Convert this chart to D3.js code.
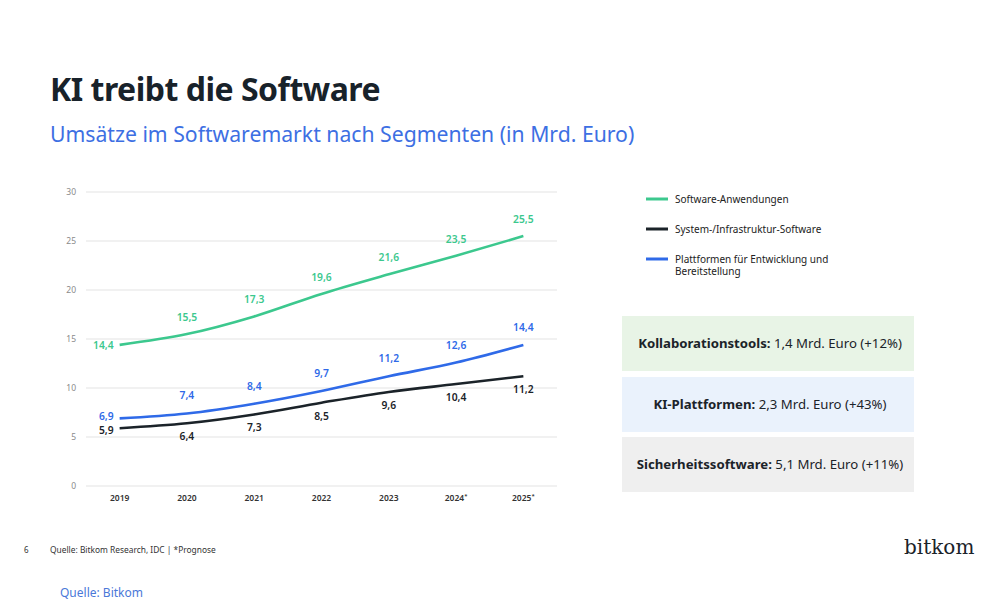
<!DOCTYPE html>
<html><head><meta charset="utf-8">
<script src="https://cdn.jsdelivr.net/npm/d3@7"></script>
<style>body{margin:0;background:#fff;}svg{display:block;font-family:"Noto Sans","Open Sans",sans-serif;}</style>
</head><body>
<svg id="c" width="1000" height="600"></svg>
<script>
const years = ["2019","2020","2021","2022","2023","2024*","2025*"];
const anwendungen = [14.4,15.5,17.3,19.6,21.6,23.5,25.5];
const infrastruktur = [5.9,6.4,7.3,8.5,9.6,10.4,11.2];
const plattformen = [6.9,7.4,8.4,9.7,11.2,12.6,14.4];
const yTicks = [0,5,10,15,20,25,30];
const seriesNames = ["Software-Anwendungen","System-/Infrastruktur-Software","Plattformen für Entwicklung und Bereitstellung"];
const boxBold = ["Kollaborationstools:","KI-Plattformen:","Sicherheitssoftware:"];
const boxRest = [" 1,4 Mrd. Euro (+12%)"," 2,3 Mrd. Euro (+43%)"," 5,1 Mrd. Euro (+11%)"];

const svg = d3.select("#c");
const green="#3cc88e", black="#1b2329", blue="#2f6ae8";
const fmt = v => String(v).replace(".", ",");

svg.append("text").attr("x",50).attr("y",101).attr("font-size",32).attr("font-weight",700)
  .attr("fill","#18222a").attr("letter-spacing","-0.5").text("KI treibt die Software");
svg.append("text").attr("x",50).attr("y",142).attr("font-size",21.2).attr("fill","#3d6fe3")
  .text("Umsätze im Softwaremarkt nach Segmenten (in Mrd. Euro)");

const x = d3.scalePoint().domain(years).range([86,557]).padding(0.5);
const y = d3.scaleLinear().domain([0,30]).range([486,192]);

const g = svg.append("g");
g.selectAll("line.grid").data(yTicks).join("line")
  .attr("x1",86).attr("x2",557).attr("y1",d=>y(d)).attr("y2",d=>y(d))
  .attr("stroke","#e3e3e3").attr("stroke-width",1.2);
g.selectAll("text.yt").data(yTicks).join("text")
  .attr("x",76).attr("y",d=>y(d)+3).attr("text-anchor","end").attr("font-size",8.5)
  .attr("fill","#8a8a8a").text(d=>d);
const xt = g.selectAll("text.xt").data(years).join("text")
  .attr("x",d=>x(d)).attr("y",501).attr("text-anchor","middle").attr("font-size",8.5)
  .attr("font-weight",600).attr("fill","#333");
xt.append("tspan").text(d=>d.replace("*",""));
xt.filter(d=>d.includes("*")).append("tspan").attr("font-size",6).attr("dy",-3).text("*");

const line = d3.line().x((d,i)=>x(years[i])).y(d=>y(d)).curve(d3.curveMonotoneX);
const series = [
  {vals:anwendungen,color:green,dy:-13,first:{dx:-6,dy:4}},
  {vals:infrastruktur,color:black,dy:17,first:{dx:-6,dy:6}},
  {vals:plattformen,color:blue,dy:-14,first:{dx:-6,dy:2}}
];
series.forEach(s=>{
  g.append("path").attr("d",line(s.vals)).attr("fill","none").attr("stroke",s.color).attr("stroke-width",2.6);
});
series.forEach(s=>{
  g.selectAll(null).data(s.vals).join("text")
    .attr("x",(d,i)=> i===0 ? x(years[i])+s.first.dx : x(years[i]))
    .attr("y",(d,i)=> i===0 ? y(d)+s.first.dy : y(d)+s.dy)
    .attr("text-anchor",(d,i)=> i===0 ? "end":"middle")
    .attr("font-size",10.3).attr("font-weight",600).attr("fill",s.color).text(fmt);
});

const lg = svg.append("g");
const legColors=[green,black,blue];
[0,1,2].forEach(i=>{
  const ly = 199 + i*30;
  lg.append("line").attr("x1",646).attr("x2",668).attr("y1",ly).attr("y2",ly).attr("stroke",legColors[i]).attr("stroke-width",3);
});
lg.append("text").attr("x",675).attr("y",203).attr("font-size",10).attr("fill","#222").text(seriesNames[0]);
lg.append("text").attr("x",675).attr("y",233).attr("font-size",10).attr("fill","#222").text(seriesNames[1]);
const t3 = lg.append("text").attr("x",675).attr("y",263).attr("font-size",10).attr("fill","#222");
t3.append("tspan").attr("x",675).text("Plattformen für Entwicklung und");
t3.append("tspan").attr("x",675).attr("dy",12).text("Bereitstellung");

const boxFill=["#e8f4e6","#eaf2fc","#efefef"];
const boxTop=[316,377,437];
[0,1,2].forEach(i=>{
  svg.append("rect").attr("x",622).attr("y",boxTop[i]).attr("width",292).attr("height",55).attr("fill",boxFill[i]);
  const t = svg.append("text").attr("x",770).attr("y",boxTop[i]+32).attr("text-anchor","middle")
    .attr("font-size",13.2).attr("fill","#1b2329");
  t.append("tspan").attr("font-weight",700).text(boxBold[i]);
  t.append("tspan").text(boxRest[i]);
});

svg.append("text").attr("x",24).attr("y",553).attr("font-size",8).attr("fill","#333").text("6");
svg.append("text").attr("x",50).attr("y",553).attr("font-size",8.4).attr("fill","#333").text("Quelle: Bitkom Research, IDC | *Prognose");
svg.append("text").attr("x",904).attr("y",554).attr("font-size",20).attr("font-family","DejaVu Serif, Liberation Serif, serif").attr("fill","#1b2329").text("bitkom");
svg.append("text").attr("x",60).attr("y",597).attr("font-size",12).attr("fill","#4a78d8").text("Quelle: Bitkom");
</script>
</body></html>
